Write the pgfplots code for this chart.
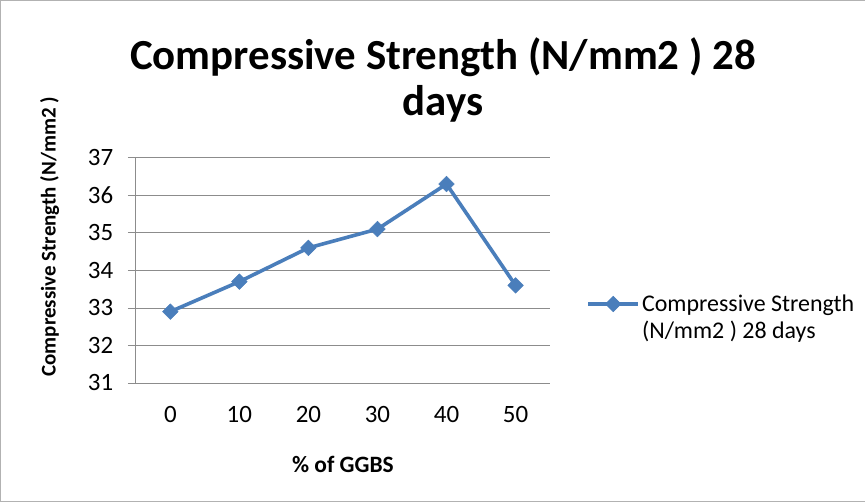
\documentclass[border=0pt]{standalone}
\usepackage{fontspec}
\setmainfont{Carlito}
\usepackage{pgfplots}
\pgfplotsset{compat=1.18}
\definecolor{serblue}{HTML}{4A7EBB}
\definecolor{gridgrey}{HTML}{8C8C8C}
\begin{document}
\begin{tikzpicture}[x=1bp,y=1bp]
\draw[draw=gray!60, fill=white] (0.5,0.5) rectangle (864.5,501.5);
\node[font=\bfseries\fontsize{43}{46}\selectfont, align=center, anchor=center] at (443,502-80) {Compressive Strength (N/mm2 ) 28\\days};
\begin{axis}[
  at={(136bp,119bp)}, anchor=south west,
  scale only axis, width=414bp, height=225bp,
  xmin=-0.5, xmax=5.5, ymin=31, ymax=37,
  xtick={0,1,2,3,4,5}, xticklabels={0,10,20,30,40,50},
  ytick={31,32,33,34,35,36,37},
  /pgf/number format/assume math mode=true,
  ticklabel style={font=\fontsize{25}{28}\selectfont},
  xticklabel style={yshift=-12bp},
  yticklabel style={xshift=-11bp},
  ymajorgrids, major grid style={gridgrey, line width=0.8bp},
  axis line style={gridgrey, line width=0.8bp},
  axis x line*=bottom, axis y line*=left,
  x axis line style={-}, y axis line style={-},
  xtick style={draw=none},
  ytick style={gridgrey, line width=0.8bp},
  tick align=outside, major tick length=8bp,
  xlabel={\% of GGBS},
  xlabel style={font=\bfseries\fontsize{23.5}{27}\selectfont, at={(axis description cs:0.5,-0.364)}, anchor=center},
  ylabel={Compressive Strength (N/mm2 )},
  ylabel style={font=\bfseries\fontsize{21}{25}\selectfont, at={(axis description cs:-0.208,0.65)}, anchor=center},
  legend style={at={(axis description cs:1.08,0.293)}, anchor=west, draw=none, fill=none,
    font=\fontsize{24}{27}\selectfont, cells={align=left}},
  legend image code/.code={\draw[mark repeat=2,mark phase=2,#1] plot coordinates {(0bp,13bp) (25bp,13bp) (50bp,13bp)};},
]
\addplot[serblue, line width=3.6bp, mark=square*, mark size=5.5bp, mark options={fill=serblue, draw=serblue, line width=0.5bp, rotate=45}]
  coordinates {(0,32.9) (1,33.7) (2,34.6) (3,35.1) (4,36.3) (5,33.6)};
\addlegendentry{Compressive Strength\\(N/mm2 ) 28 days}
\end{axis}
\end{tikzpicture}
\end{document}
